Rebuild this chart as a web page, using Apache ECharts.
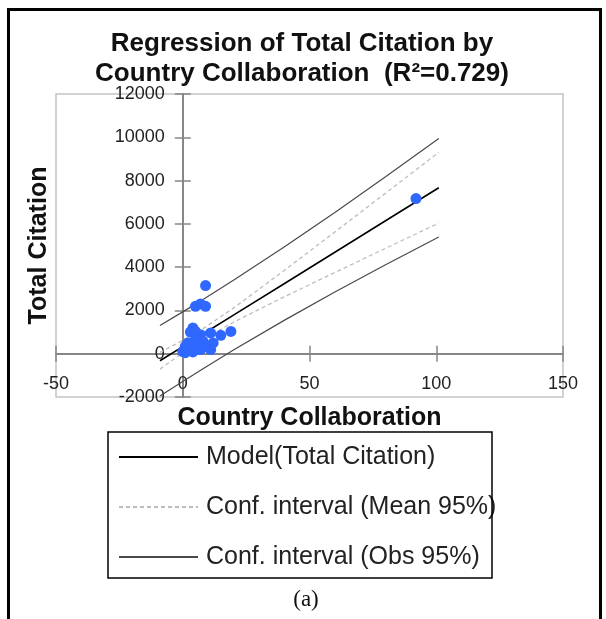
<!DOCTYPE html>
<html>
<head>
<meta charset="utf-8">
<script src="https://cdn.jsdelivr.net/npm/echarts@6/dist/echarts.min.js"></script>
<style>
  html, body { margin: 0; padding: 0; background: #fff; }
  #chart { width: 606px; height: 619px; }
</style>
</head>
<body>
<div id="chart"></div>
<script>
// Observed countries: collaboration count vs. total citations
const countryCollab = [9, 7, 5, 9, 4, 3, 5, 7, 19, 15, 11, 1, 3, 7, 11, 12, 5, 8, 0, 2, 1, 3, 6, 9, 4, 92];
const totalCitation = [3150, 2300, 2190, 2190, 1190, 1000, 1030, 880, 1030, 850, 960, 340, 190, 190, 190, 500, 650, 570, 100, 500, 50, 420, 300, 350, 80, 7170];

// Fitted model and 95% intervals, sampled along the x range
const fitX = [-9, 0, 8, 20, 40, 60, 80, 101];
const modelY = [-327, 327, 909, 1781, 3235, 4689, 6143, 7670];
const meanUpper = [59, 613, 1159, 2106, 3844, 5625, 7417, 9303];
const meanLower = [-713, 41, 659, 1456, 2626, 3753, 4869, 6037];
const obsUpper = [1300, 1933, 2509, 3395, 4929, 6528, 8176, 9948];
const obsLower = [-1954, -1279, -691, 167, 1541, 2850, 4110, 5392];

const xTicks = { min: -50, max: 150, interval: 50 };
const yTicks = { min: -2000, max: 12000, interval: 2000 };

const NAME_MODEL = 'Model(Total Citation)';
const NAME_MEAN = 'Conf. interval (Mean 95%)';
const NAME_OBS = 'Conf. interval (Obs 95%)';

const pairs = (xs, ys) => xs.map((x, i) => [x, ys[i]]);

// Plot box in pixels; the axes are shifted so they cross at the data origin
const G = { left: 56, top: 94, right: 563, bottom: 397 };
const zeroPx = (min, max, lo, hi) => lo + (0 - min) / (max - min) * (hi - lo);
const x0 = zeroPx(xTicks.min, xTicks.max, G.left, G.right);
const y0 = zeroPx(yTicks.min, yTicks.max, G.bottom, G.top);

const chart = echarts.init(document.getElementById('chart'), null, { renderer: 'canvas' });

const axisGray = '#878787';
const sans = 'Liberation Sans, Arial, sans-serif';
const tickFont = { fontFamily: sans, fontSize: 18, color: '#222', formatter: v => String(v) };

const baseX = {
  type: 'value', min: xTicks.min, max: xTicks.max, interval: xTicks.interval,
  splitLine: { show: false },
  axisLine: { show: true, onZero: false, lineStyle: { color: axisGray, width: 2 } },
  axisTick: { show: true, length: 8, lineStyle: { color: axisGray, width: 1.5 } }
};
const baseY = {
  type: 'value', min: yTicks.min, max: yTicks.max, interval: yTicks.interval,
  splitLine: { show: false },
  axisLine: { show: true, onZero: false, lineStyle: { color: axisGray, width: 2 } },
  axisTick: { show: true, length: 8, lineStyle: { color: axisGray, width: 1.5 } }
};

const lineSeries = (name, ys, color, width, type) => ({
  name, type: 'line', data: pairs(fitX, ys), showSymbol: false, symbol: 'none',
  silent: true, animation: false, z: 2, xAxisIndex: 0, yAxisIndex: 0,
  lineStyle: { color, width, type }, itemStyle: { color }
});

chart.setOption({
  animation: false,
  backgroundColor: '#fff',
  title: {
    text: 'Regression of Total Citation by\nCountry Collaboration  (R²=0.729)',
    left: 297, top: 24, textAlign: 'center',
    textStyle: { fontFamily: sans, fontSize: 26, fontWeight: 'bold', lineHeight: 30, color: '#111' }
  },
  grid: {
    left: G.left, right: 606 - G.right, top: G.top, bottom: 619 - G.bottom,
    outerBoundsMode: 'none', containLabel: false,
    show: true, borderColor: '#c4c4c4', borderWidth: 1.5, backgroundColor: 'transparent'
  },
  xAxis: [
    Object.assign({}, baseX, {
      position: 'bottom', offset: -(G.bottom - y0),
      name: 'Country Collaboration', nameLocation: 'middle', nameGap: 52,
      nameTextStyle: { fontFamily: sans, fontSize: 25, fontWeight: 'bold', color: '#111' },
      axisLabel: Object.assign({ margin: 21 }, tickFont)
    }),
    Object.assign({}, baseX, {
      position: 'top', offset: -(y0 - G.top), axisLabel: { show: false },
      axisLine: { show: false, onZero: false }
    })
  ],
  yAxis: [
    Object.assign({}, baseY, {
      position: 'left', offset: -(x0 - G.left),
      name: 'Total Citation', nameLocation: 'middle', nameGap: 131,
      nameTextStyle: { fontFamily: sans, fontSize: 25, fontWeight: 'bold', color: '#111' },
      axisLabel: Object.assign({ margin: 18 }, tickFont)
    }),
    Object.assign({}, baseY, {
      position: 'right', offset: -(G.right - x0), axisLabel: { show: false },
      axisLine: { show: false, onZero: false }
    })
  ],
  legend: {
    data: [NAME_MODEL, NAME_MEAN, NAME_OBS],
    orient: 'vertical', left: 118, top: 444, padding: 0,
    itemWidth: 79, itemHeight: 14, itemGap: 24,
    selectedMode: false,
    itemStyle: { opacity: 0 },
    textStyle: { fontFamily: sans, fontSize: 25, lineHeight: 26, color: '#222', padding: [0, 0, 0, 3] }
  },
  graphic: [
    { type: 'rect', shape: { x: 108, y: 432, width: 384, height: 146 }, style: { fill: 'none', stroke: '#000', lineWidth: 1.5 }, z: 10 },
    { type: 'rect', shape: { x: 8.5, y: 9.5, width: 592, height: 640 }, style: { fill: 'none', stroke: '#000', lineWidth: 3 }, z: 10 },
    { type: 'text', x: 306, y: 600, style: { text: '(a)', fontFamily: 'Liberation Serif, Times New Roman, serif', fontSize: 23, fill: '#111', textAlign: 'center', textVerticalAlign: 'middle' } }
  ],
  series: [
    lineSeries(NAME_OBS, obsUpper, '#4a4a4a', 1.2, 'solid'),
    lineSeries(NAME_OBS, obsLower, '#4a4a4a', 1.2, 'solid'),
    lineSeries(NAME_MEAN, meanUpper, '#bdbdbd', 1.3, [4, 3]),
    lineSeries(NAME_MEAN, meanLower, '#bdbdbd', 1.3, [4, 3]),
    lineSeries(NAME_MODEL, modelY, '#000', 1.6, 'solid'),
    {
      name: 'Observations', type: 'scatter', data: pairs(countryCollab, totalCitation),
      xAxisIndex: 0, yAxisIndex: 0,
      symbol: 'circle', symbolSize: 11, itemStyle: { color: '#2f68ff', opacity: 1 }, z: 3, silent: true
    }
  ]
});
</script>
</body>
</html>
